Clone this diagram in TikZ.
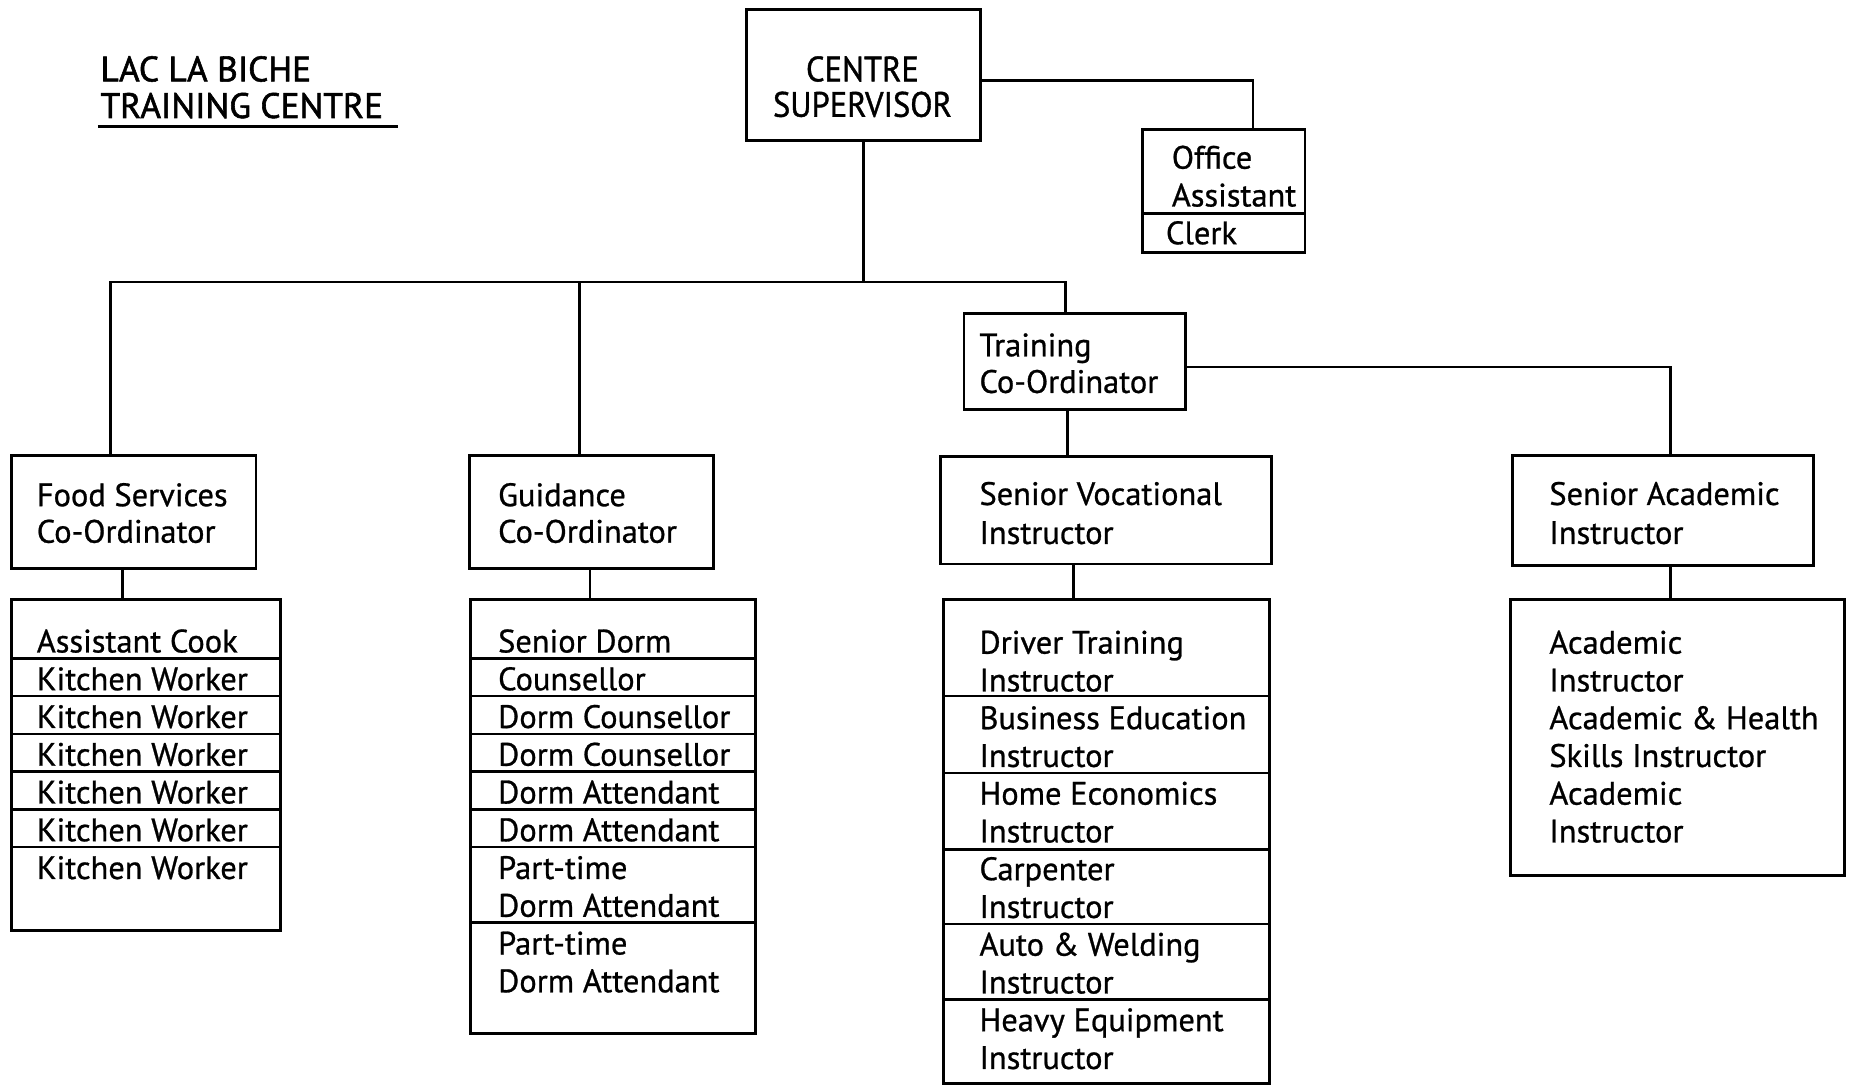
\documentclass[tikz,border=0pt]{standalone}
\usepackage{fontspec}
\setmainfont[FakeBold=0.8]{PT Sans}
\newfontfamily\capsfont[FakeStretch=0.92,FakeBold=1]{PT Sans}
\newfontfamily\titlefont[FakeBold=1.6]{PT Sans}
\begin{document}
\begin{tikzpicture}[x=1pt,y=-1pt,
  box/.style={draw, line width=2.4pt, inner sep=0pt, outer sep=0pt, anchor=north west},
  lbl/.style={anchor=base west, inner sep=0pt, font=\fontsize{27.5}{30}\selectfont},
  capstxt/.style={anchor=base west, inner sep=0pt, font=\capsfont\fontsize{30}{32}\selectfont},
  titletxt/.style={anchor=base west, inner sep=0pt, font=\titlefont\fontsize{30}{32}\selectfont},
  conn/.style={line width=2.4pt},
  sep/.style={line width=2.2pt}]
\useasboundingbox (0,0) rectangle (1568,920);

% title
\node[titletxt] (t1) at (85,69) {LAC LA BICHE};
\node[titletxt] (t2) at (85,100) {TRAINING CENTRE};
\draw[line width=2.2pt] (t2.base west |- 0,107) ++(-2,0) -- (337,107);

% top boxes
\node[box, minimum width=198pt, minimum height=111pt] (cs) at (633,8) {};
\node[capstxt, anchor=base] (cs1) at (731,69) {CENTRE};
\node[capstxt, anchor=base] (cs2) at (731,99) {SUPERVISOR};

\node[box, minimum width=138pt, minimum height=104pt] (oa) at (968,110) {};
\draw[sep] (oa.west |- 0,181) -- (oa.east |- 0,181);
\node[lbl] (oa1) at (993,143) {Office};
\node[lbl] (oa2) at (993,175) {Assistant};
\node[lbl] (oa3) at (988,207) {Clerk};

% second level
\node[box, minimum width=207pt, minimum height=96pt] (fs) at (10,386) {};
\node[lbl] (fs1) at (31,429) {Food Services};
\node[lbl] (fs2) at (31,460) {Co-Ordinator};

\node[box, minimum width=207pt, minimum height=96pt] (gc) at (398,386) {};
\node[lbl] (gc1) at (422,429) {Guidance};
\node[lbl] (gc2) at (422,460) {Co-Ordinator};

\node[box, minimum width=188pt, minimum height=81pt] (tc) at (817,266) {};
\node[lbl] (tc1) at (830,302) {Training};
\node[lbl] (tc2) at (830,333) {Co-Ordinator};

\node[box, minimum width=281pt, minimum height=91pt] (sv) at (797,387) {};
\node[lbl] (sv1) at (830,428) {Senior Vocational};
\node[lbl] (sv2) at (830,461) {Instructor};

\node[box, minimum width=255pt, minimum height=93pt] (sa) at (1282,386) {};
\node[lbl] (sa1) at (1313,428) {Senior Academic};
\node[lbl] (sa2) at (1313,461) {Instructor};

% list boxes
\node[box, minimum width=228pt, minimum height=281pt] (fl) at (10,508) {};
\foreach \yy in {558,590,622,654,686,718}
  \draw[sep] (fl.west |- 0,\yy) -- (fl.east |- 0,\yy);
\foreach \t [count=\i] in {Assistant Cook,Kitchen Worker,Kitchen Worker,Kitchen Worker,Kitchen Worker,Kitchen Worker,Kitchen Worker}
  \node[lbl] (fl\i) at (31,{521+32*\i}) {\t};

\node[box, minimum width=241pt, minimum height=368pt] (gl) at (399,508) {};
\foreach \yy in {558,590,622,654,686,718,782}
  \draw[sep] (gl.west |- 0,\yy) -- (gl.east |- 0,\yy);
\foreach \t [count=\i] in {Senior Dorm,Counsellor,Dorm Counsellor,Dorm Counsellor,Dorm Attendant,Dorm Attendant,Part-time,Dorm Attendant,Part-time,Dorm Attendant}
  \node[lbl] (gl\i) at (422,{521+32*\i}) {\t};

\node[box, minimum width=276pt, minimum height=410pt] (vl) at (800,508) {};
\foreach \yy in {590,655,720,783,847}
  \draw[sep] (vl.west |- 0,\yy) -- (vl.east |- 0,\yy);
\foreach \t [count=\i] in {Driver Training,Instructor,Business Education,Instructor,Home Economics,Instructor,Carpenter,Instructor,Auto \& Welding,Instructor,Heavy Equipment,Instructor}
  \node[lbl] (vl\i) at (830,{522+32*\i}) {\t};

\node[box, minimum width=283pt, minimum height=234pt] (al) at (1280,508) {};
\foreach \t [count=\i] in {Academic,Instructor,Academic \& Health,Skills Instructor,Academic,Instructor}
  \node[lbl] (al\i) at (1313,{522+32*\i}) {\t};

% connectors
\coordinate (busL) at (94,239);
\coordinate (busG) at (491,239);
\coordinate (busR) at (903,239);
\coordinate (oaj) at (1062,68);
\coordinate (saj) at (1416,311);
\draw[conn] (cs.south) -- (cs.south |- busL);
\draw[conn] (busL |- fs.north) -- (busL) -- (busR) -- (busR |- tc.north);
\draw[conn] (busG) -- (busG |- gc.north);
\draw[conn] (cs.east |- oaj) -- (oaj) -- (oaj |- oa.north);
\draw[conn] (tc.east |- saj) -- (saj) -- (saj |- sa.north);
\coordinate (svj) at (905,0);
\coordinate (flj) at (104,0);
\coordinate (glj) at (500,0);
\coordinate (vlj) at (910,0);
\draw[conn] (svj |- tc.south) -- (svj |- sv.north);
\draw[conn] (flj |- fs.south) -- (flj |- fl.north);
\draw[conn] (glj |- gc.south) -- (glj |- gl.north);
\draw[conn] (vlj |- sv.south) -- (vlj |- vl.north);
\draw[conn] (saj |- sa.south) -- (saj |- al.north);
\end{tikzpicture}
\end{document}
